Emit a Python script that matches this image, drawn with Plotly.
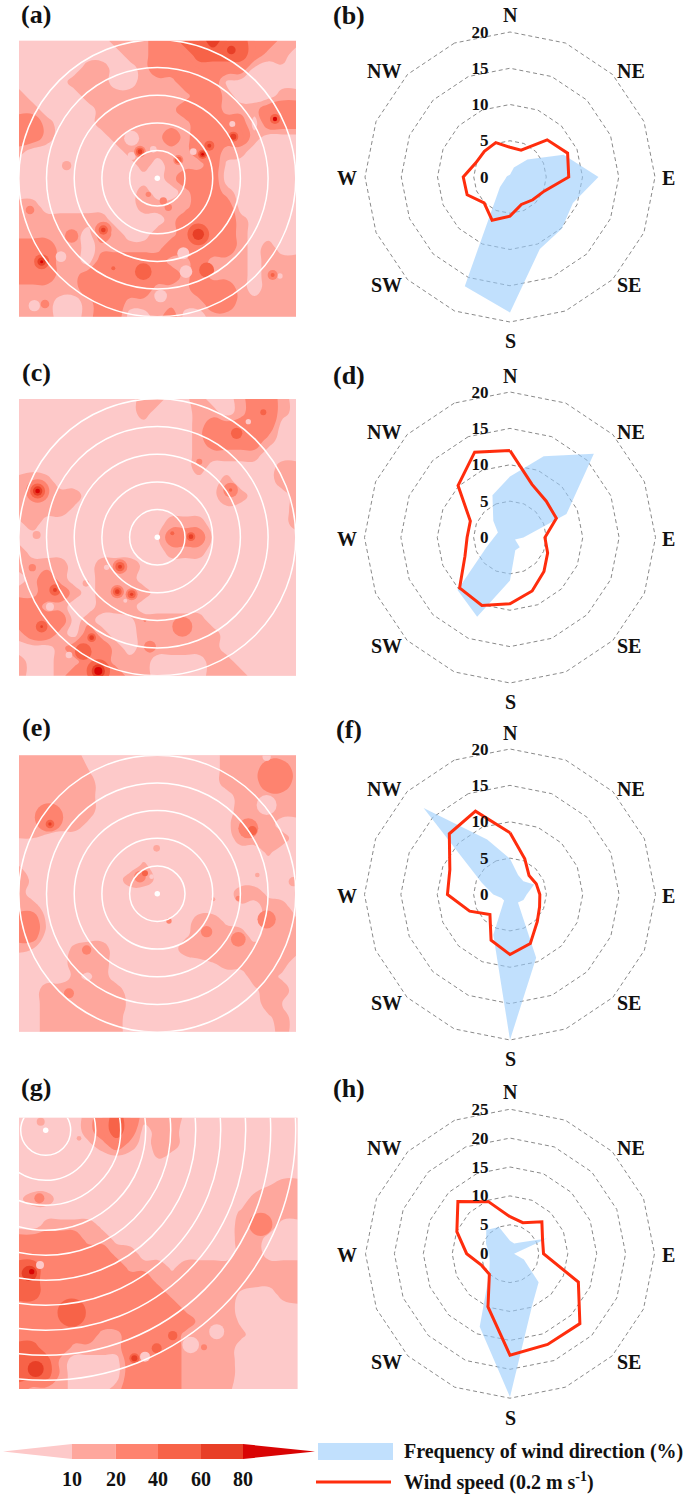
import numpy as np
import plotly.graph_objects as go

W, H = 685, 1494
SERIF = "Liberation Serif"

DIRECTIONS = ["N", "NNE", "NE", "ENE", "E", "ESE", "SE", "SSE", "S", "SSW", "SW", "WSW", "W", "WNW", "NW", "NNW"]
LEVEL_COLORS = ["#fea79d", "#fe836f", "#f76348", "#e83f27", "#d90404"]
LEVELS = [10, 20, 40, 60, 80]
PALE = "#fdc9c9"
RED = "#ff2d0d"
BLUE_FILL = "rgba(152,203,252,0.6)"
VALUE_COLOR = {5: PALE, 15: LEVEL_COLORS[0], 30: LEVEL_COLORS[1], 50: LEVEL_COLORS[2], 70: LEVEL_COLORS[3], 90: LEVEL_COLORS[4]}

FREQ_B = [0.3, 1.4, 3.4, 8.0, 12.2, 9.4, 10.1, 10.75, 18.7, 16.3, 1.95, 0.7, 0.5, 0.4, 0.3, 0.3]
SPEED_B = [4.1, 4.0, 7.25, 8.6, 8.1, 5.1, 4.45, 4.1, 5.4, 6.45, 5.05, 6.4, 6.45, 5.1, 5.0, 5.13]
FREQ_D = [8.4, 12.1, 16.3, 8.4, 1.85, 0.75, 1.9, 1.9, 5.9, 11.8, 10.2, 3.5, 2.2, 1.8, 3.25, 6.3]
SPEED_D = [11.95, 7.9, 7.05, 6.9, 4.8, 5.6, 6.6, 7.95, 9.1, 10.1, 9.8, 6.7, 5.9, 5.9, 10.1, 12.7]
FREQ_F = [4.9, 2.9, 2.6, 3.6, 2.3, 2.0, 1.55, 9.4, 20.0, 6.0, 1.15, 1.25, 2.3, 4.2, 16.8, 8.2]
SPEED_F = [8.5, 5.3, 3.7, 3.9, 4.1, 4.4, 5.3, 7.3, 8.25, 6.8, 3.9, 6.0, 8.6, 8.95, 11.8, 12.4]
FREQ_H = [2.25, 1.9, 2.8, 6.9, 0.7, 2.6, 7.0, 9.9, 24.8, 13.7, 5.1, 3.8, 3.6, 4.5, 5.8, 5.0]
SPEED_H = [6.4, 5.8, 7.8, 6.1, 5.8, 12.8, 17.1, 17.0, 17.55, 9.95, 5.05, 5.3, 7.5, 9.95, 12.75, 9.75]

GRID_A = [
 [5,5,5,5,5,5,5,15,15,15,30,30,50,50,70,50,50,30,30,15,15],
 [5,5,5,5,5,5,5,5,15,15,30,30,30,50,50,50,50,30,15,15,5],
 [5,5,5,5,5,15,15,5,5,15,30,30,30,30,30,30,30,8,5,8,5],
 [5,5,5,5,15,15,15,5,5,15,15,15,30,30,30,8,5,5,5,5,5],
 [15,5,5,5,5,15,15,15,15,15,15,15,15,30,30,15,5,5,5,15,15],
 [15,15,5,5,5,5,15,15,15,15,15,15,30,30,30,15,15,15,30,30,30],
 [30,30,15,5,5,5,15,15,15,15,15,15,15,30,30,30,30,5,30,30,30],
 [30,30,15,5,5,5,5,15,15,15,15,30,15,30,30,30,30,15,5,5,5],
 [15,5,5,5,5,5,5,5,15,15,15,15,15,30,30,15,15,5,5,5,5],
 [5,5,5,5,5,5,5,5,5,15,5,15,15,15,30,8,5,5,5,5,5],
 [5,5,5,5,5,5,5,5,5,5,5,15,30,30,30,5,5,5,5,5,5],
 [5,5,5,5,5,5,5,5,5,15,5,5,15,30,30,15,5,5,5,5,5],
 [15,15,5,5,5,5,5,5,5,15,15,15,15,30,30,30,5,5,5,5,5],
 [15,15,15,15,15,15,15,5,5,5,5,15,30,30,30,30,15,5,5,5,5],
 [15,15,15,15,15,5,30,15,5,5,15,15,30,30,30,30,15,5,5,5,5],
 [30,30,30,15,15,5,15,15,15,15,15,30,30,30,30,30,15,5,15,5,5],
 [30,30,30,15,15,5,30,30,30,30,30,15,15,30,15,15,15,5,15,15,15],
 [30,30,30,15,15,30,30,30,30,30,30,30,15,30,15,15,15,5,15,15,15],
 [15,15,15,15,15,30,30,30,30,30,15,15,15,30,30,30,15,5,15,15,15],
 [15,15,15,5,5,15,30,30,15,15,15,15,15,15,30,30,15,15,15,15,15],
 [15,15,15,5,5,15,30,30,5,5,15,30,5,5,15,15,15,15,15,15,15],
]
GRID_C = [
 [5,5,5,5,5,5,5,5,5,15,15,5,8,15,5,5,15,30,30,15,5],
 [5,5,5,5,5,5,5,5,5,15,5,5,5,15,15,5,15,30,30,15,5],
 [5,5,5,5,5,5,5,5,5,5,5,5,5,15,30,30,30,30,30,5,5],
 [5,5,5,5,5,5,5,5,5,5,5,5,5,15,30,30,30,30,15,5,5],
 [5,5,5,5,5,5,5,5,5,5,5,5,5,15,15,15,15,15,5,5,5],
 [5,8,5,5,5,5,5,5,5,5,5,5,5,15,5,5,5,5,5,15,15],
 [15,15,15,5,5,5,5,5,5,5,5,5,5,5,5,15,5,5,5,15,15],
 [15,15,15,15,15,5,5,5,5,5,5,5,5,5,8,15,15,5,5,5,15],
 [15,15,15,15,8,5,5,5,5,5,5,5,5,5,5,8,5,5,5,5,15],
 [8,15,5,5,5,5,5,5,5,5,5,15,15,15,5,5,5,5,5,5,15],
 [5,5,5,5,5,5,5,5,5,5,8,30,30,30,8,5,5,5,5,5,5],
 [15,5,5,5,5,5,5,5,5,5,5,15,15,15,5,5,5,5,5,5,5],
 [15,15,15,15,5,5,15,15,15,8,5,5,5,5,5,5,5,5,5,5,5],
 [5,15,30,15,5,5,15,15,15,5,5,5,5,5,5,5,5,5,5,5,5],
 [15,15,30,30,15,5,15,15,15,15,5,5,5,5,5,5,5,5,5,5,5],
 [30,30,15,15,5,5,15,15,15,5,5,5,5,5,5,5,5,5,5,5,5],
 [30,30,30,30,5,15,5,5,8,15,15,15,15,15,5,5,5,5,5,5,5],
 [15,30,30,15,5,30,15,5,5,15,15,15,15,15,15,5,5,5,5,5,5],
 [5,5,5,15,30,30,30,15,5,15,15,15,15,15,15,5,5,5,5,5,5],
 [15,5,5,15,15,30,30,15,15,15,5,5,5,5,15,15,5,5,5,5,5],
 [15,5,5,15,30,30,30,30,15,15,5,5,5,5,15,15,15,5,5,5,5],
]
GRID_E = [
 [15,15,15,15,15,5,5,5,5,5,5,5,5,5,5,15,15,15,15,15,15],
 [15,15,15,15,15,10,5,5,5,5,5,5,5,5,5,15,15,15,30,30,15],
 [15,15,15,15,15,15,5,5,5,5,5,5,5,5,5,15,15,15,30,30,15],
 [15,15,15,15,15,15,5,5,5,5,5,5,5,5,5,5,15,15,15,15,15],
 [15,15,15,15,15,15,5,5,5,5,5,5,5,5,5,5,15,15,15,15,15],
 [15,15,15,15,15,8,5,5,5,5,5,5,5,5,5,8,15,15,15,5,5],
 [10,10,8,5,5,5,5,5,5,5,5,5,5,5,5,5,15,15,15,15,5],
 [5,5,5,5,5,5,5,5,5,5,5,5,5,5,5,5,5,5,12,5,5],
 [10,5,5,5,5,5,5,5,5,12,5,5,5,5,5,5,5,5,5,5,5],
 [15,8,5,5,5,5,5,5,15,15,8,5,5,5,5,5,5,5,5,5,5],
 [15,5,5,5,5,5,5,5,5,5,5,5,5,5,5,5,15,15,8,5,5],
 [15,15,5,5,5,5,5,5,5,5,5,5,5,5,5,5,8,5,15,15,5],
 [30,30,8,5,5,5,5,5,5,5,5,5,5,15,15,8,5,5,15,15,12],
 [30,30,5,5,5,5,5,5,5,5,5,5,8,15,15,15,15,5,15,15,15],
 [12,10,5,5,12,15,15,5,5,5,5,5,15,15,15,15,15,15,15,15,15],
 [5,5,5,5,15,15,15,5,5,5,5,5,5,8,10,15,15,15,15,15,5],
 [5,5,5,5,12,8,15,5,5,5,5,5,5,5,5,5,5,15,15,8,5],
 [5,5,15,15,15,15,15,15,5,5,5,5,5,5,5,5,5,8,15,15,5],
 [5,5,15,15,15,15,15,15,8,5,5,5,5,5,5,5,5,5,15,10,5],
 [5,5,15,15,15,15,15,15,5,5,5,5,5,5,5,5,5,5,8,15,5],
 [5,5,15,15,15,15,15,15,5,5,5,5,5,5,5,5,5,5,5,15,5],
]
GRID_G = [
 [5,5,5,5,5,15,30,50,30,15,15,15,8,5,5,5,5,5,5,5,5],
 [5,5,5,5,5,15,30,50,30,5,15,15,5,5,5,5,5,5,5,5,5],
 [5,5,5,5,5,8,15,30,15,5,15,15,5,5,5,5,5,5,5,5,5],
 [5,5,5,5,5,5,5,5,5,5,10,5,5,5,5,5,5,5,5,5,5],
 [5,5,5,5,5,5,5,5,5,5,5,5,5,5,5,5,5,5,5,5,5],
 [5,5,5,5,5,5,5,5,5,5,5,5,5,5,5,5,5,5,10,15,15],
 [8,15,15,5,5,5,5,5,5,5,5,5,5,5,5,5,5,15,15,15,15],
 [5,5,5,5,5,5,5,5,5,5,5,5,5,5,5,5,12,15,15,15,15],
 [5,5,15,15,15,15,8,5,5,5,5,5,5,5,5,5,15,15,15,5,5],
 [30,30,30,30,30,15,15,8,5,5,5,5,5,5,5,5,15,15,5,5,5],
 [30,30,30,30,30,30,30,15,15,5,5,5,5,5,5,5,15,15,5,5,5],
 [50,50,30,30,30,30,30,30,15,15,15,8,15,15,15,15,15,15,15,15,15],
 [50,50,30,30,30,30,30,30,30,30,15,15,15,15,15,15,15,15,15,15,15],
 [50,50,30,30,30,30,30,30,30,30,30,15,15,15,15,15,8,5,5,15,15],
 [30,30,30,30,30,30,30,30,30,30,30,30,15,15,15,15,5,5,5,5,8],
 [30,30,30,30,30,30,30,30,30,30,30,30,30,15,15,15,8,5,5,5,5],
 [30,30,30,30,30,30,15,15,30,30,30,30,15,15,15,15,12,5,5,5,5],
 [50,50,30,30,15,15,15,15,30,30,30,30,15,15,15,15,5,5,5,5,5],
 [50,50,50,15,5,5,5,5,30,30,30,30,15,15,15,15,5,5,5,5,5],
 [50,50,50,15,5,5,5,5,30,30,30,30,15,15,15,15,5,5,5,5,5],
 [30,15,15,15,5,5,5,15,30,30,30,30,15,15,15,12,5,5,5,5,5],
]

# local features: (east, south, value, extent), in image-reading units
SPOTS_A = [
 (825,357,50,30),(825,357,90,13),(700,410,30,60),(700,410,50,30),(700,410,70,18),
 (628,437,50,30),(628,437,70,12),(608,463,50,28),(608,463,70,18),(608,463,90,8),
 (420,455,30,35),(420,455,50,24),(420,455,70,14),(535,480,30,30),(535,480,50,20),
 (694,150,70,26),(595,703,50,65),(595,703,70,34),(310,690,30,50),(310,690,50,28),(310,690,70,14),
 (430,815,50,50),(125,785,50,45),(125,785,70,25),(125,785,90,9),(620,810,50,45),
 (818,825,30,30),(818,825,50,12),(340,805,50,12),(200,497,15,28),(90,630,30,26),(215,708,30,40),
 (135,912,30,26),(445,583,30,16),(490,603,30,22),(505,622,30,22),
 (395,468,5,24),(183,770,5,32),(558,815,5,38),(482,888,5,38),(103,917,5,34),(840,828,5,16),
 (697,372,5,18),(395,415,5,45),(550,760,5,36),(580,455,5,20),(460,448,5,20),
]
SPOTS_C = [
 (113,408,30,70),(113,408,50,45),(113,408,70,28),(113,408,90,14),(165,705,50,34),(165,705,70,12),
 (97,638,30,22),(125,815,50,35),(125,815,70,8),(275,848,30,40),(275,848,50,26),(275,848,70,14),
 (250,890,50,50),(295,948,50,70),(295,948,70,40),(295,948,90,24),(360,635,30,44),(360,635,50,28),(360,635,70,12),
 (352,710,30,40),(352,710,50,26),(352,710,70,14),(395,718,30,36),(395,718,50,24),(395,718,70,10),
 (258,685,15,20),(150,755,5,24),(376,737,5,12),(320,637,5,16),(265,840,5,10),(207,900,5,20),
 (573,545,30,40),(573,545,50,26),(573,545,70,14),(517,535,50,12),(547,815,30,60),(450,875,30,36),(435,797,30,8),
 (710,235,50,34),(790,172,50,18),(745,200,5,16),(598,320,30,18),(692,405,30,44),(692,405,50,10),(110,540,15,24),
]
SPOTS_E = [
 (147,322,30,85),(150,342,50,26),(150,342,70,10),(260,720,30,28),(207,850,30,30),(470,415,15,20),
 (420,500,30,35),(435,490,50,18),(455,500,5,14),(620,665,30,34),(715,688,30,44),(800,628,30,55),
 (715,565,30,16),(745,355,30,60),(757,362,50,28),(507,633,30,16),(640,568,15,12),(772,495,15,14),
 (880,515,15,28),(800,140,5,25),(800,285,5,60),
]
SPOTS_G = [
 (88,610,70,46),(95,605,90,16),(120,585,5,24),(118,385,30,30),(237,205,15,14),(403,865,50,30),(403,865,70,18),
 (435,860,5,30),(470,835,50,30),(518,797,50,28),(572,825,5,50),(650,785,5,45),(612,832,30,18),
 (107,897,70,48),(215,728,50,85),(782,463,30,70),(122,155,15,24),
]

# label, grid, spots, left, right, top, bottom, ring px, site x px, site y px, rings, reading centre x, y
MAPS = [
    ("(a)", GRID_A, SPOTS_A, 19, 296, 40.7, 316.7, 27.7, 138.3, 137.6, 5, 472, 535),
    ("(c)", GRID_C, SPOTS_C, 19, 296, 399, 675.7, 27.7, 138.3, 138.3, 5, 472, 547),
    ("(e)", GRID_E, SPOTS_E, 19, 296, 755.3, 1031.7, 27.7, 138.3, 138.4, 5, 472, 551),
    ("(g)", GRID_G, SPOTS_G, 19, 297.5, 1117.7, 1389, 25, 26.7, 12.6, 10, 137, 181),
]
ROSES = [
    ("(b)", FREQ_B, SPEED_B, 510, 177, 145, 20),
    ("(d)", FREQ_D, SPEED_D, 510, 537.5, 145.5, 20),
    ("(f)", FREQ_F, SPEED_F, 510, 894.5, 145.5, 20),
    ("(h)", FREQ_H, SPEED_H, 510, 1253.7, 144.5, 25),
]
LETTER_POS = {"(a)": (36, 14), "(c)": (36, 372), "(e)": (36, 727), "(g)": (36, 1087),
              "(b)": (349, 15), "(d)": (349, 375), "(f)": (349, 729), "(h)": (349, 1088)}
COMPASS = [("N", 0, -162), ("NE", 121, -106), ("E", 158, 1), ("SE", 119, 108),
           ("S", 0, 164), ("SW", -124, 108), ("W", -163, 1), ("NW", -126, -106)]

px = lambda v: v / W
py = lambda v: 1 - v / H

STEP = [(0.0, PALE), (0.0625, PALE), (0.0625, LEVEL_COLORS[0]), (0.1875, LEVEL_COLORS[0]),
        (0.1875, LEVEL_COLORS[1]), (0.4375, LEVEL_COLORS[1]), (0.4375, LEVEL_COLORS[2]),
        (0.6875, LEVEL_COLORS[2]), (0.6875, LEVEL_COLORS[3]), (0.9375, LEVEL_COLORS[3]),
        (0.9375, LEVEL_COLORS[4]), (1.0, LEVEL_COLORS[4])]

fig = go.Figure()
annotations, shapes = [], []

def note(text, x, y, size=17, bold=True, anchor="center"):
    annotations.append(dict(text=text, x=px(x), y=py(y), xref="paper", yref="paper", showarrow=False,
                            xanchor=anchor, yanchor="middle", borderpad=0,
                            font=dict(family=SERIF, size=size, color="#111", weight="bold" if bold else "normal")))

layout_axes = {}
for n, (label, grid, spots, x0, x1, y0, y1, spacing, sx, sy, nrings, rcx, rcy) in enumerate(MAPS, start=1):
    xname, yname = f"x{n}", f"y{n}"
    layout_axes[f"xaxis{n}"] = dict(domain=[px(x0), px(x1)], range=[0, (x1 - x0) / spacing], visible=False, fixedrange=True, anchor=yname)
    layout_axes[f"yaxis{n}"] = dict(domain=[py(y1), py(y0)], range=[(y1 - y0) / spacing, 0], visible=False, fixedrange=True, anchor=xname)
    xs = np.linspace(0, (x1 - x0) / spacing, len(grid[0]))
    ys = np.linspace(0, (y1 - y0) / spacing, len(grid))
    fig.add_trace(go.Contour(x=xs, y=ys, z=grid, xaxis=xname, yaxis=yname, showscale=False, hoverinfo="skip",
                             autocontour=False, contours=dict(start=10, end=80, size=10, coloring="fill", showlines=False),
                             colorscale=[[a, c] for a, c in STEP], line=dict(width=0, smoothing=1.3)))
    cx, cy = sx / spacing, sy / spacing
    ordered = sorted(spots, key=lambda s: s[2])
    fig.add_trace(go.Scatter(x=[cx + (s[0] - rcx) / (3 * spacing) for s in ordered],
                             y=[cy + (s[1] - rcy) / (3 * spacing) for s in ordered],
                             xaxis=xname, yaxis=yname, mode="markers", hoverinfo="skip", showlegend=False, cliponaxis=True,
                             marker=dict(color=[VALUE_COLOR[s[2]] for s in ordered], size=[s[3] / 3 for s in ordered],
                                         line=dict(width=0), opacity=1)))
    for r in range(1, nrings + 1):
        shapes.append(dict(type="circle", xref=xname, yref=yname, x0=cx - r, x1=cx + r, y0=cy - r, y1=cy + r,
                           line=dict(color="white", width=1.5)))
    fig.add_trace(go.Scatter(x=[cx], y=[cy], xaxis=xname, yaxis=yname, mode="markers", hoverinfo="skip",
                             marker=dict(color="white", size=5.5), showlegend=False))
    note(label, *LETTER_POS[label], size=26)

for n, (label, freq, speed, cx, cy, rad, rmax) in enumerate(ROSES, start=1):
    sub = "polar" if n == 1 else f"polar{n}"
    fig.add_trace(go.Scatterpolar(r=freq + freq[:1], theta=DIRECTIONS + DIRECTIONS[:1], subplot=sub, mode="lines",
                                  fill="toself", fillcolor=BLUE_FILL, line=dict(width=0), hoverinfo="skip"))
    fig.add_trace(go.Scatterpolar(r=speed + speed[:1], theta=DIRECTIONS + DIRECTIONS[:1], subplot=sub, mode="lines",
                                  line=dict(color=RED, width=3), hoverinfo="skip"))
    extra = 1 + 2.5 / rad
    R = rad * extra
    layout_axes[sub] = dict(
        domain=dict(x=[px(cx - R), px(cx + R)], y=[py(cy + R), py(cy - R)]),
        bgcolor="rgba(0,0,0,0)", gridshape="linear",
        angularaxis=dict(type="category", categoryarray=DIRECTIONS, direction="clockwise", rotation=90,
                         showgrid=False, showline=False, showticklabels=False, ticks=""),
        radialaxis=dict(range=[0, rmax * extra], tickvals=list(range(0, rmax + 1, 5)), angle=90, side="counterclockwise",
                        tickangle=90, showline=False, ticks="outside", ticklen=15, tickcolor="rgba(0,0,0,0)",
                        griddash="4px,3px", gridcolor="#8a8a8a", gridwidth=1,
                        tickfont=dict(family=SERIF, size=17, color="#111", weight="bold")),
    )
    note(label, *LETTER_POS[label], size=26)
    for text, dx, dy in COMPASS:
        note(text, cx + dx, cy + dy, size=20, bold=True)

BAR_TOP, BAR_BOT = 1444, 1459
BAR_STOPS = [72, 115.7, 158, 201, 243]
def rect_path(a, b):
    return f"M{px(a)},{py(BAR_TOP)} L{px(b)},{py(BAR_TOP)} L{px(b)},{py(BAR_BOT)} L{px(a)},{py(BAR_BOT)} Z"
mid = (BAR_TOP + BAR_BOT) / 2
shapes.append(dict(type="path", xref="paper", yref="paper", fillcolor=PALE, line=dict(width=0),
                   path=f"M{px(3)},{py(mid)} L{px(BAR_STOPS[0])},{py(BAR_TOP)} L{px(BAR_STOPS[0])},{py(BAR_BOT)} Z"))
for i in range(4):
    shapes.append(dict(type="path", xref="paper", yref="paper", fillcolor=LEVEL_COLORS[i], line=dict(width=0),
                       path=rect_path(BAR_STOPS[i], BAR_STOPS[i + 1])))
shapes.append(dict(type="path", xref="paper", yref="paper", fillcolor=LEVEL_COLORS[4], line=dict(width=0),
                   path=f"M{px(BAR_STOPS[4])},{py(BAR_TOP)} L{px(315)},{py(mid)} L{px(BAR_STOPS[4])},{py(BAR_BOT)} Z"))
for lev, xpos in zip(LEVELS, BAR_STOPS):
    note(str(lev), xpos, 1479, size=20)

shapes.append(dict(type="rect", xref="paper", yref="paper", x0=px(318), x1=px(393), y0=py(1460), y1=py(1443),
                   fillcolor="#c1e0fd", line=dict(width=0)))
shapes.append(dict(type="line", xref="paper", yref="paper", x0=px(316), x1=px(391), y0=py(1482), y1=py(1482),
                   line=dict(color=RED, width=3)))
note("Frequency of wind direction (%)", 403, 1451, size=20, anchor="left")
note("Wind speed (0.2 m s<sup>-1</sup>)", 403, 1481, size=20, anchor="left")

fig.update_layout(width=W, height=H, autosize=False, margin=dict(l=0, r=0, t=0, b=0), showlegend=False,
                  paper_bgcolor="white", plot_bgcolor=PALE, annotations=annotations, shapes=shapes, **layout_axes)
fig.write_html("out.html", post_script="document.body.style.margin='0';", config={"displayModeBar": False})
